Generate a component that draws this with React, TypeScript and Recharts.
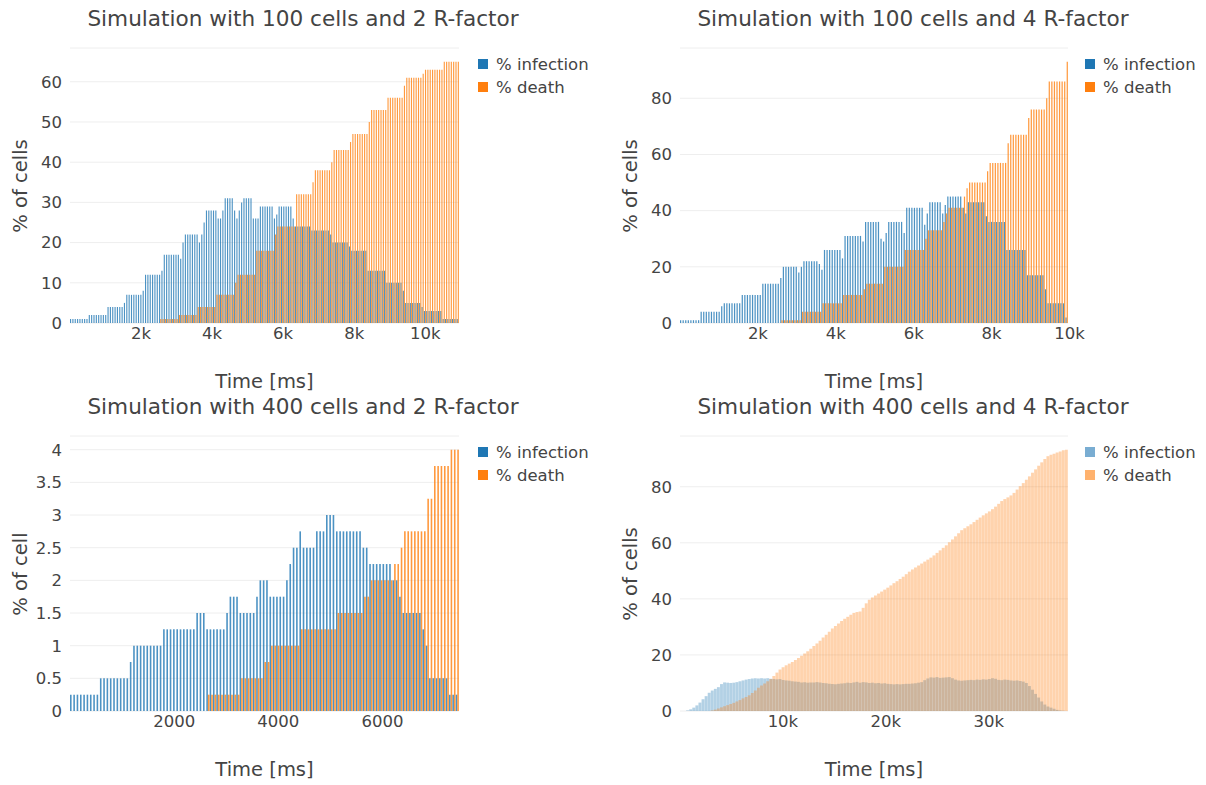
import { Bar, BarChart, CartesianGrid, XAxis, YAxis } from "recharts";

const FONT = '"DejaVu Sans", Verdana, "Open Sans", sans-serif';
const TEXT = "#444";
const BLUE = "#1f77b4";
const ORANGE = "#ff7f0e";

// 100 cells, R-factor 2
const c1Infection = [
  1, 1, 1, 1, 1, 1, 1, 1,
  2, 2, 2, 2, 2, 2, 2, 2,
  4, 4, 4, 4, 4, 4, 4, 5,
  7, 7, 7, 7, 7, 7, 7, 8,
  12, 12, 12, 12, 12, 12, 12, 13,
  17, 17, 17, 17, 17, 17, 17, 16,
  20, 22, 22, 22, 22, 22, 22, 20, 22, 25,
  28, 28, 28, 28, 28, 26, 26, 28,
  31, 31, 31, 31, 28, 26, 28, 30,
  31, 31, 31, 31, 26, 26, 26,
  29, 29, 29, 29, 29, 29, 26, 27,
  29, 29, 29, 29, 29, 29, 26,
  24, 24, 24, 24, 24, 24, 24, 23,
  23, 23, 23, 23, 23, 23, 23, 22,
  20, 20, 20, 20, 20, 20, 20, 19,
  18, 18, 18, 18, 18, 18, 18,
  13, 13, 13, 13, 13, 13, 13, 13,
  10, 10, 10, 10, 10, 10, 10, 8,
  5, 5, 5, 5, 5, 5, 5, 4,
  3, 3, 3, 3, 3, 3, 3, 3,
  1, 1, 1, 1, 1, 1, 1,
];
const c1Death = [
  0, 0, 0, 0, 0, 0, 0, 0, 0, 0, 0, 0, 0, 0, 0, 0, 0, 0, 0,
  0, 0, 0, 0, 0, 0, 0, 0, 0, 0, 0, 0, 0, 0, 0, 0, 0, 0, 0,
  1, 1, 1, 1, 1, 1, 1, 1,
  2, 2, 2, 2, 2, 2, 2, 2,
  4, 4, 4, 4, 4, 4, 4, 4,
  7, 7, 7, 7, 7, 7, 7, 7, 10,
  12, 12, 12, 12, 12, 12, 12, 12,
  18, 18, 18, 18, 18, 18, 18, 18, 22,
  24, 24, 24, 24, 24, 24, 24, 24,
  32, 32, 32, 32, 32, 32, 32, 35,
  38, 38, 38, 38, 38, 38, 38, 40,
  43, 43, 43, 43, 43, 43, 43, 45,
  47, 47, 47, 47, 47, 47, 47, 50,
  53, 53, 53, 53, 53, 53, 53,
  56, 56, 56, 56, 56, 56, 56, 59,
  61, 61, 61, 61, 61, 61, 61, 62,
  63, 63, 63, 63, 63, 63, 63, 63,
  65, 65, 65, 65, 65, 65, 65,
];

// 100 cells, R-factor 4
const c2Infection = [
  1, 1, 1, 1, 1, 1, 1, 1,
  4, 4, 4, 4, 4, 4, 4, 4,
  6, 7, 7, 7, 7, 7, 7, 7,
  10, 10, 10, 10, 10, 10, 10, 10,
  14, 14, 14, 14, 14, 14, 14, 16,
  20, 20, 20, 20, 20, 20, 18, 20,
  22, 22, 22, 22, 22, 22, 21, 19,
  26, 26, 26, 26, 26, 26, 26, 23,
  31, 31, 31, 31, 31, 31, 31, 29,
  36, 36, 36, 36, 36, 36, 30, 29, 32,
  36, 36, 36, 36, 36, 36, 32,
  41, 41, 41, 41, 41, 41, 41, 35, 39,
  43, 43, 43, 43, 43, 39, 42,
  45, 45, 45, 45, 45, 45, 41, 39,
  43, 43, 43, 43, 43, 43, 43, 38,
  36, 36, 36, 36, 36, 36, 36,
  26, 26, 26, 26, 26, 26, 26, 26,
  17, 17, 17, 17, 17, 17, 17, 12,
  7, 7, 7, 7, 7, 7, 7, 2,
];
const c2Death = [
  0, 0, 0, 0, 0, 0, 0, 0, 0, 0, 0, 0, 0, 0, 0, 0, 0, 0, 0, 0,
  0, 0, 0, 0, 0, 0, 0, 0, 0, 0, 0, 0, 0, 0, 0, 0, 0, 0, 0,
  1, 1, 1, 1, 1, 1, 1, 1,
  4, 4, 4, 4, 4, 4, 4, 4,
  7, 7, 7, 7, 7, 7, 7, 7,
  10, 10, 10, 10, 10, 10, 10, 10, 12,
  14, 14, 14, 14, 14, 14, 14,
  20, 20, 20, 20, 20, 20, 20, 20,
  26, 26, 26, 26, 26, 26, 26, 26, 30,
  33, 33, 33, 33, 33, 33, 36, 39,
  41, 41, 41, 41, 41, 41, 45, 48,
  50, 50, 50, 50, 50, 50, 50, 54,
  57, 57, 57, 57, 57, 57, 57, 64,
  67, 67, 67, 67, 67, 67, 67, 73,
  76, 76, 76, 76, 76, 76, 80,
  86, 86, 86, 86, 86, 86, 86, 93,
];

// 400 cells, R-factor 2
const c3Infection = [
  0.25, 0.25, 0.25, 0.25, 0.25, 0.25, 0.25, 0.25, 0.25,
  0.5, 0.5, 0.5, 0.5, 0.5, 0.5, 0.5, 0.5, 0.5, 0.75,
  1, 1, 1, 1, 1, 1, 1, 1, 1,
  1.25, 1.25, 1.25, 1.25, 1.25, 1.25, 1.25, 1.25, 1.25, 1.25,
  1.5, 1.5, 1.5, 1.25, 1.25, 1.25, 1.25, 1.25, 1.25, 1.5,
  1.75, 1.75, 1.75, 1.5, 1.5, 1.5, 1.5, 1.5, 1.75,
  2, 2, 2, 1.75, 1.75, 1.75, 1.75, 1.75, 2, 2.25,
  2.5, 2.5, 2.75, 2.5, 2.5, 2.5, 2.5, 2.75, 2.75, 2.75,
  3, 3, 3, 2.75, 2.75, 2.75, 2.75, 2.75, 2.75, 2.75, 2.75,
  2.5, 2.5, 2.25, 2.25, 2.25, 2.25, 2.25, 2.25, 2.25,
  2, 2, 1.75, 1.5, 1.5, 1.5, 1.5, 1.5, 1.5, 1.25, 1,
  0.5, 0.5, 0.5, 0.5, 0.5, 0.5, 0.25, 0.25, 0.25,
];
const c3Death = [
  0, 0, 0, 0, 0, 0, 0, 0, 0, 0, 0, 0, 0, 0, 0, 0, 0, 0, 0, 0, 0,
  0, 0, 0, 0, 0, 0, 0, 0, 0, 0, 0, 0, 0, 0, 0, 0, 0, 0, 0, 0,
  0.25, 0.25, 0.25, 0.25, 0.25, 0.25, 0.25, 0.25, 0.25, 0.25,
  0.5, 0.5, 0.5, 0.5, 0.5, 0.5, 0.5, 0.75, 0.75,
  1, 1, 1, 1, 1, 1, 1, 1, 1,
  1.25, 1.25, 1.25, 1.25, 1.25, 1.25, 1.25, 1.25, 1.25, 1.25, 1.25,
  1.5, 1.5, 1.5, 1.5, 1.5, 1.5, 1.5, 1.5, 1.75, 1.75,
  2, 2, 2, 2, 2, 2, 2, 2.25, 2.25, 2.5,
  2.75, 2.75, 2.75, 2.75, 2.75, 2.75, 2.75, 3.25, 3.25,
  3.75, 3.75, 3.75, 3.75, 3.75, 4, 4, 4,
];

// 400 cells, R-factor 4
const c4Infection = [
  0, 0, 0.2, 0.6, 1.2, 2, 3, 4.2, 5.3, 6.5,
  7.3, 7.9, 8.5, 9.6, 10.2, 10.1, 10, 10.1, 10.3, 10.6,
  10.9, 11.2, 11.4, 11.6, 11.7, 11.6, 11.7, 11.6, 11.7, 11.5,
  11.4, 11.3, 11.4, 11.1, 10.9, 10.8, 10.6, 10.5, 10.4, 10.2,
  10.3, 10.1, 10.2, 10.2, 10.3, 10.2, 10, 9.9, 9.7, 9.6,
  9.5, 9.7, 9.8, 9.9, 10.1, 10, 10.2, 10.4, 10.1, 10.3,
  10.2, 10, 10.1, 9.9, 10, 9.8, 9.9, 9.7, 9.6, 9.5,
  9.6, 9.5, 9.6, 9.7, 9.7, 9.8, 9.9, 10.1, 10.3, 11,
  11.6, 12, 11.9, 12.1, 11.8, 11.9, 12, 12.1, 11.7, 11.2,
  10.9, 10.8, 10.9, 11, 11.1, 11, 11.2, 11.1, 11.3, 11.2,
  11.4, 11.7, 11.5, 11.1, 11, 11.2, 11.1, 10.9, 10.8, 10.9,
  10.7, 10.5, 10, 8.9, 7.6, 6.1, 4.8, 3.4, 2.3, 1.6,
  1.2, 0.8, 0.4, 0.2, 0.1, 0,
];
const c4Death = [
  0, 0, 0, 0, 0, 0, 0, 0, 0, 0,
  0.2, 0.5, 0.9, 1.3, 1.7, 2.1, 2.5, 2.9, 3.4, 3.9,
  4.5, 5, 5.6, 6.4, 7.3, 8.3, 9.1, 9.8, 10.6, 11.4,
  12.5, 13.7, 14.8, 15.6, 16.3, 16.9, 17.5, 18.2, 18.9, 19.7,
  20.5, 21.3, 22.2, 23.2, 24.1, 25.1, 26.2, 27.2, 28.3, 29.4,
  30.3, 31.2, 32.1, 32.9, 33.6, 34.3, 35, 35.3, 35.5, 36.8,
  38.4, 39.7, 40.5, 41.2, 41.9, 42.6, 43.3, 44, 44.8, 45.6,
  46.3, 47.1, 47.9, 48.8, 49.7, 50.5, 51.2, 51.9, 52.6, 53.3,
  54, 54.7, 55.5, 56.4, 57.3, 58.2, 59.1, 60.2, 61.2, 62.3,
  63.4, 64.5, 65.2, 65.9, 66.6, 67.4, 68.2, 69, 69.8, 70.5,
  71.2, 72, 72.9, 73.9, 74.9, 75.6, 76.2, 76.9, 77.8, 79,
  80.2, 81.3, 82.5, 83.7, 85, 86.2, 87.5, 88.7, 89.9, 90.9,
  91.4, 91.8, 92.2, 92.6, 93, 93.2,
];

const kTicks = [2000, 4000, 6000, 8000, 10000];
const c3XTicks = [2000, 4000, 6000];
const c4XTicks = [10000, 20000, 30000];
const pctTicks = [0, 10, 20, 30, 40, 50, 60];
const pct20Ticks = [0, 20, 40, 60, 80];
const smallTicks = [0, 0.5, 1, 1.5, 2, 2.5, 3, 3.5, 4];

const PLOT_H = 275;

interface PanelProps {
  title: string;
  yLabel: string;
  infection: number[];
  death: number[];
  durationMs: number;
  yMax: number;
  yTicks: number[];
  xTicks: number[];
  kFormat: boolean;
  plotLeft: number;
  plotTop: number;
  plotWidth: number;
  legendX: number;
  titleX: number;
  opacity: number;
  overlay?: boolean;
}

function Legend({ x, y, opacity }: { x: number; y: number; opacity: number }) {
  const items = [
    { name: "% infection", color: BLUE },
    { name: "% death", color: ORANGE },
  ];
  return (
    <>
      {items.map((it, i) => (
        <div
          key={it.name}
          style={{ position: "absolute", left: x, top: y + i * 23 - 11, height: 22, display: "flex", alignItems: "center", fontSize: 16.5, whiteSpace: "nowrap" }}
        >
          <span style={{ width: 10, height: 10, background: it.color, opacity, marginRight: 8 }} />
          {it.name}
        </div>
      ))}
    </>
  );
}

function SimPanel(p: PanelProps) {
  const rows = p.infection.map((v, i) => ({ i, infection: v, death: p.death[i] }));
  const band = p.plotWidth / rows.length;
  // the two traces sit side by side in the sparse runs, on top of each other in the dense one
  const barSize = p.overlay ? band * 0.94 : band * 0.48;
  const tickStyle = { fill: TEXT, fontSize: 16.5, fontFamily: FONT };

  return (
    <>
      <div style={{ position: "absolute", left: p.titleX, top: p.plotTop - 30, transform: "translate(-50%, -50%)", fontSize: 21.6, whiteSpace: "nowrap" }}>
        {p.title}
      </div>
      <div style={{ position: "absolute", left: p.plotLeft - 60, top: p.plotTop - 5 }}>
        <BarChart
          width={p.plotWidth + 82}
          height={PLOT_H + 5 + 30}
          data={rows}
          margin={{ top: 5, right: 22, bottom: 0, left: 0 }}
          barGap={0}
          barCategoryGap={0}
        >
          <CartesianGrid xAxisId="t" vertical={false} stroke="#eee" />
          <XAxis xAxisId="cat" dataKey="i" type="category" hide height={0} />
          <XAxis xAxisId="cat2" dataKey="i" type="category" hide height={0} />
          <XAxis
            xAxisId="t"
            type="number"
            dataKey="i"
            domain={[0, p.durationMs]}
            ticks={p.xTicks}
            allowDataOverflow
            interval={0}
            tickFormatter={(v: number) => (p.kFormat ? `${v / 1000}k` : `${v}`)}
            axisLine={false}
            tickLine={false}
            tickSize={0}
            tickMargin={4}
            height={30}
            tick={tickStyle}
          />
          <YAxis
            type="number"
            domain={[0, p.yMax]}
            ticks={p.yTicks}
            allowDataOverflow
            axisLine={false}
            tickLine={false}
            tickSize={0}
            tickMargin={8}
            width={60}
            tick={tickStyle}
          />
          <Bar xAxisId="cat" dataKey="infection" fill={BLUE} fillOpacity={p.opacity} barSize={barSize} isAnimationActive={false} />
          <Bar xAxisId={p.overlay ? "cat2" : "cat"} dataKey="death" fill={ORANGE} fillOpacity={p.opacity} barSize={barSize} isAnimationActive={false} />
        </BarChart>
      </div>
      <div style={{ position: "absolute", left: p.plotLeft + p.plotWidth / 2, top: p.plotTop + PLOT_H + 58, transform: "translate(-50%, -50%)", fontSize: 19.5, whiteSpace: "nowrap" }}>
        Time [ms]
      </div>
      <div style={{ position: "absolute", left: p.plotLeft - 50, top: p.plotTop + PLOT_H / 2, transform: "translate(-50%, -50%) rotate(-90deg)", fontSize: 19.5, whiteSpace: "nowrap" }}>
        {p.yLabel}
      </div>
      <Legend x={p.legendX} y={p.plotTop + 16} opacity={p.overlay ? 0.6 : 1} />
    </>
  );
}

export default function App() {
  return (
    <div style={{ position: "absolute", left: 0, top: 0, width: 1206, height: 785, background: "#fff", fontFamily: FONT, color: TEXT }}>
      <SimPanel
        title="Simulation with 100 cells and 2 R-factor"
        yLabel="% of cells"
        infection={c1Infection}
        death={c1Death}
        durationMs={10950}
        yMax={68.4}
        yTicks={pctTicks}
        xTicks={kTicks}
        kFormat
        plotLeft={70}
        plotTop={48}
        plotWidth={389}
        legendX={478}
        titleX={303}
        opacity={0.8}
      />
      <SimPanel
        title="Simulation with 100 cells and 4 R-factor"
        yLabel="% of cells"
        infection={c2Infection}
        death={c2Death}
        durationMs={9960}
        yMax={97.9}
        yTicks={pct20Ticks}
        xTicks={kTicks}
        kFormat
        plotLeft={680}
        plotTop={48}
        plotWidth={388}
        legendX={1085}
        titleX={913}
        opacity={0.8}
      />
      <SimPanel
        title="Simulation with 400 cells and 2 R-factor"
        yLabel="% of cell"
        infection={c3Infection}
        death={c3Death}
        durationMs={7470}
        yMax={4.21}
        yTicks={smallTicks}
        xTicks={c3XTicks}
        kFormat={false}
        plotLeft={70}
        plotTop={436}
        plotWidth={389}
        legendX={478}
        titleX={303}
        opacity={0.8}
      />
      <SimPanel
        title="Simulation with 400 cells and 4 R-factor"
        yLabel="% of cells"
        infection={c4Infection}
        death={c4Death}
        durationMs={37700}
        yMax={98.1}
        yTicks={pct20Ticks}
        xTicks={c4XTicks}
        kFormat
        plotLeft={680}
        plotTop={436}
        plotWidth={388}
        legendX={1085}
        titleX={913}
        opacity={0.34}
        overlay
      />
    </div>
  );
}
